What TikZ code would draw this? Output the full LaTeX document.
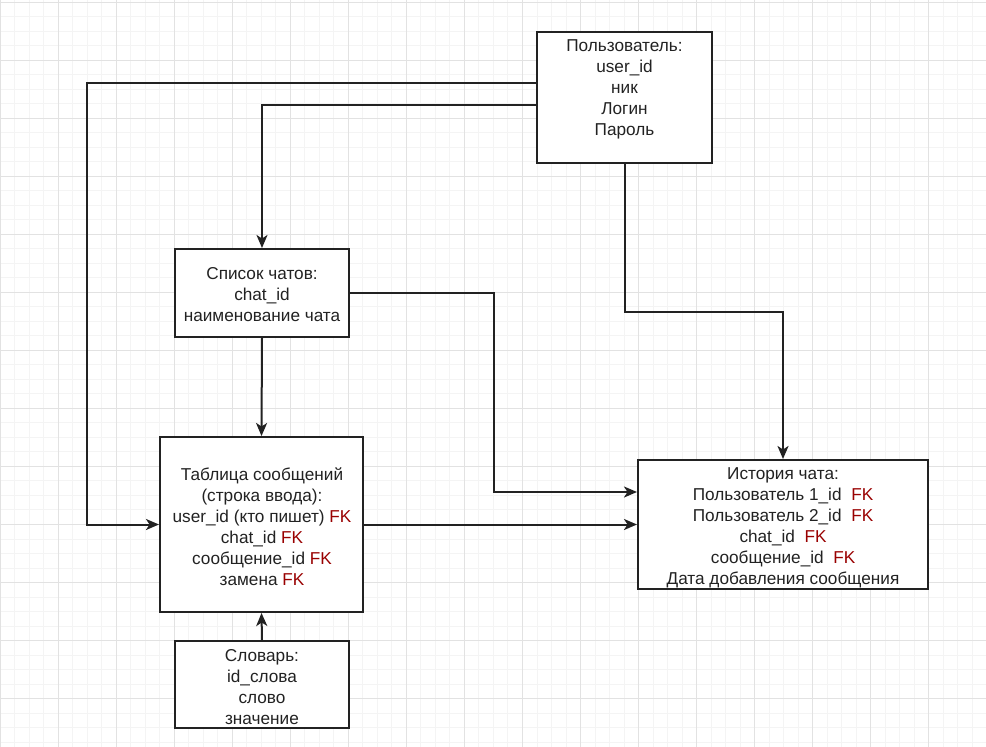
\documentclass[tikz,border=0pt]{standalone}
\usepackage{fontspec}
\setmainfont{Liberation Sans}
\usetikzlibrary{arrows.meta,calc}
\definecolor{ink}{HTML}{222222}
\definecolor{fkred}{HTML}{990000}
\definecolor{gridminor}{HTML}{F4F4F4}
\definecolor{gridmajor}{HTML}{E2E2E2}
\newcommand{\fkmark}{\textcolor{fkred}{FK}}
\begin{document}
\begin{tikzpicture}[x=1pt,y=-1pt,
  gminor/.style={draw=gridminor, line width=0.9pt},
  gmajor/.style={draw=gridmajor, line width=1pt},
  entity/.style={draw=ink, line width=2pt, fill=white, inner sep=0pt},
  entitytext/.style={align=center, inner sep=0pt, text=ink,
    font=\fontsize{17.2}{21}\selectfont},
  conn/.style={draw=ink, line width=2pt,
    -{Stealth[length=13pt,width=11pt,inset=3.5pt]}}]

% canvas and background grid
\useasboundingbox (0,0) rectangle (986,747);
\fill[white] (0,0) rectangle (986,747);
\begin{scope}
\clip (0,0) rectangle (986,747);
\foreach \i in {0,...,68} \draw[gminor] (\i*14.5125,0) -- (\i*14.5125,747);
\foreach \j in {0,...,52} \draw[gminor] (0,2+\j*14.5125) -- (986,2+\j*14.5125);
\foreach \i in {0,...,17} \draw[gmajor] (\i*58.05,0) -- (\i*58.05,747);
\foreach \j in {0,...,13} \draw[gmajor] (0,2+\j*58.05) -- (986,2+\j*58.05);
\end{scope}

% entity boxes
\node[entity, minimum width=175pt, minimum height=131pt] (user)  at (624.5,97.5) {};
\node[entity, minimum width=174pt, minimum height=88pt]  (chats) at (262,293) {};
\node[entity, minimum width=203pt, minimum height=175pt] (msgs)  at (261.5,524.5) {};
\node[entity, minimum width=290pt, minimum height=129pt] (hist)  at (783,524.5) {};
\node[entity, minimum width=174pt, minimum height=87pt]  (dict)  at (262,684.5) {};

% relations
\coordinate (bend) at (494,492);
\draw[conn] (user.west |- 0,83) -| ([xshift=-72pt]msgs.west) -- (msgs.west);
\draw[conn] (user.west |- 0,105) -| (chats.north);
\draw[conn] (user.south) -- ++(0,148) -| (hist.north);
\draw[conn] (chats.east) -| (bend) -- (hist.west |- bend);
\draw[conn] (chats.south) -- (msgs.north);
\draw[conn] (msgs.east) -- (hist.west |- msgs.east);
\draw[conn] (dict.north) -- (msgs.south);

% field lists
\node[entitytext] (user-t) at (624.5,89.5)
  {Пользователь:\\user\_id\\ник\\Логин\\Пароль};
\node[entitytext] (chats-t) at (262,295)
  {Список чатов:\\chat\_id\\наименование чата};
\node[entitytext] (msgs-t) at (262,526.5)
  {Таблица сообщений\\(строка ввода):\\user\_id (кто пишет) \fkmark\\chat\_id \fkmark\\сообщение\_id \fkmark\\замена \fkmark};
\node[entitytext] (hist-t) at (783,527.5)
  {История чата:\\Пользователь 1\_id\ \ \fkmark\\Пользователь 2\_id\ \ \fkmark\\chat\_id\ \ \fkmark\\сообщение\_id\ \ \fkmark\\Дата добавления сообщения};
\node[entitytext] (dict-t) at (262,687)
  {Словарь:\\id\_слова\\слово\\значение};
\end{tikzpicture}
\end{document}
